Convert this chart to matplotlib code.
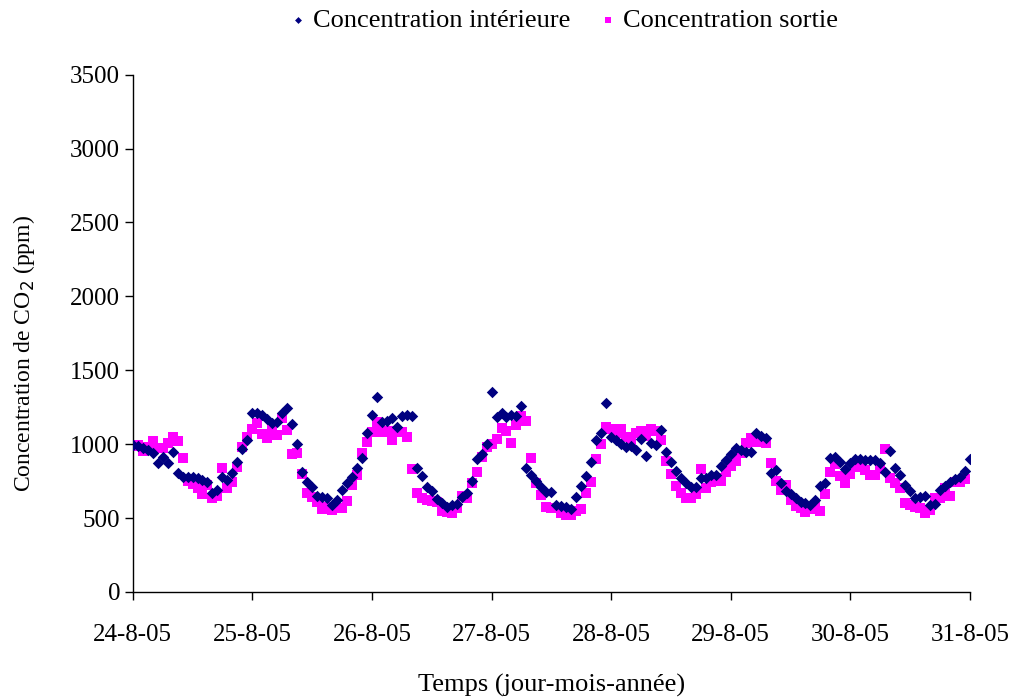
import matplotlib
matplotlib.use("Agg")
import matplotlib.pyplot as plt
import numpy as np

plt.rcParams['font.family'] = ['Liberation Serif', 'DejaVu Serif']

# Relevés horaires du 24-8-05 00h au 31-8-05 00h (ppm)
interieur = [
    995, 990, 975, 960, 941, 873, 914, 873, 948, 806, 779, 775, 779, 770, 760, 745, 670, 690, 779, 758, 806, 880, 968, 1029,
    1212, 1212, 1200, 1170, 1144, 1150, 1212, 1246, 1137, 1002, 812, 745, 711, 650, 643, 636, 589, 620, 690, 738, 779, 839, 907, 1076,
    1200, 1320, 1150, 1158, 1178, 1117, 1191, 1198, 1190, 839, 785, 711, 680, 630, 600, 575, 590, 596, 640, 670, 751, 900, 934, 1000,
    1354, 1185, 1212, 1185, 1200, 1191, 1259, 839, 792, 750, 711, 677, 677, 589, 580, 575, 560, 640, 718, 785, 880, 1029, 1076, 1280,
    1050, 1029, 1000, 982, 988, 961, 1036, 920, 1009, 995, 1097, 948, 880, 819, 772, 738, 711, 711, 772, 770, 790, 792, 853, 894,
    930, 975, 960, 948, 948, 1076, 1056, 1040, 806, 826, 740, 684, 660, 636, 609, 603, 590, 623, 718, 738, 907, 914, 880, 833,
    870, 900, 900, 890, 894, 894, 873, 812, 955, 839, 792, 724, 680, 636, 643, 650, 589, 596, 690, 720, 745, 765, 779, 819,
    900,
]
sortie = [
    990, 995, 955, 980, 1022, 975, 975, 1009, 1049, 1022, 907, 751, 731, 704, 663, 724, 636, 650, 839, 704, 745, 846, 982, 1049,
    1100, 1144, 1070, 1043, 1110, 1063, 1178, 1097, 934, 941, 799, 670, 640, 609, 562, 575, 555, 569, 569, 616, 724, 792, 941, 1015,
    1080, 1151, 1083, 1090, 1029, 1090, 1083, 1049, 833, 670, 636, 623, 615, 609, 548, 542, 535, 569, 650, 636, 738, 812, 914, 982,
    1000, 1036, 1110, 1090, 1009, 1131, 1191, 1158, 907, 738, 657, 575, 569, 569, 535, 521, 521, 548, 562, 670, 745, 900, 1002, 1117,
    1100, 1076, 1103, 1049, 1029, 1076, 1090, 1056, 1103, 1090, 1029, 887, 800, 718, 670, 636, 636, 663, 833, 704, 745, 772, 751, 812,
    850, 887, 941, 1009, 1043, 1015, 1022, 1009, 873, 751, 690, 724, 620, 582, 569, 542, 562, 575, 548, 663, 812, 867, 785, 738,
    800, 853, 846, 826, 792, 792, 833, 968, 772, 738, 704, 603, 590, 575, 569, 535, 555, 636, 636, 704, 650, 745, 745, 765,
]
jours = ["24-8-05", "25-8-05", "26-8-05", "27-8-05", "28-8-05", "29-8-05", "30-8-05", "31-8-05"]

heures_int = np.arange(len(interieur))
heures_sor = np.arange(len(sortie))

fig = plt.figure(figsize=(10.21, 6.98), dpi=100)
ax = fig.add_axes([0.130, 0.152, 0.820, 0.741])

ax.scatter(heures_int, interieur, marker='D', s=34, color='#000080', linewidths=0,
           label="Concentration intérieure", zorder=3)
ax.scatter(heures_sor, sortie, marker='s', s=50, color='#FF00FF', linewidths=0,
           label="Concentration sortie", zorder=2)

ax.set_xlim(0, 168)
ax.set_ylim(0, 3500)
ax.set_yticks(np.arange(0, 3501, 500))
ax.set_xticks(np.arange(0, 169, 24))
ax.set_xticklabels(jours)

for s in ['top', 'right']:
    ax.spines[s].set_visible(False)
ax.spines['left'].set_linewidth(1.0)
ax.spines['bottom'].set_linewidth(1.0)
ax.tick_params(axis='both', direction='out', length=6, width=1, labelsize=18)
ax.tick_params(axis='x', pad=17)
ax.tick_params(axis='y', pad=3)

ax.set_xlabel("Temps (jour-mois-année)", fontsize=19, labelpad=20)
ax.set_ylabel("Concentration de CO$_2$ (ppm)", fontsize=17)
ax.yaxis.set_label_coords(-0.114, 0.46)

leg = ax.legend(loc='center', bbox_to_anchor=(0.553, 0.971), bbox_transform=fig.transFigure,
                ncol=2, frameon=False, fontsize=19, handlelength=0.5, handletextpad=0.3,
                columnspacing=1.2, markerscale=0.6, borderaxespad=0)

fig.savefig("out.png", dpi=100)
